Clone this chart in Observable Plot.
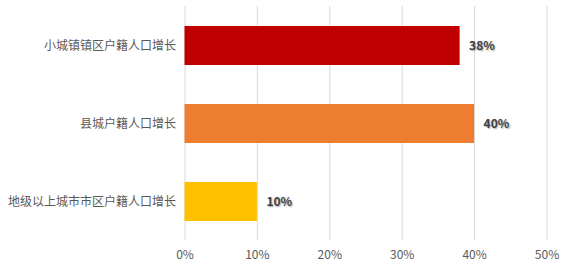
<!DOCTYPE html>
<html>
<head>
<meta charset="utf-8">
<script src="https://cdn.jsdelivr.net/npm/d3@7"></script>
<script src="https://cdn.jsdelivr.net/npm/@observablehq/plot@0.6"></script>
<style>
  html, body { margin: 0; padding: 0; background: #fff; }
  #chart svg { display: block; }
  #chart g.value-labels text { text-shadow: 1px 1.5px 1.5px rgba(0,0,0,0.35); }
</style>
</head>
<body>
<div id="chart"></div>
<script>
// Household-registration population growth by city tier
const categories = ["小城镇镇区户籍人口增长", "县城户籍人口增长", "地级以上城市市区户籍人口增长"];
const growth = [38, 40, 10];
const barColors = ["#C00000", "#ED7D31", "#FFC000"];
const xTicks = [0, 10, 20, 30, 40, 50];

const rows = categories.map((c, i) => ({category: c, value: growth[i], color: barColors[i]}));

const font = "'Noto Sans CJK SC', 'Noto Sans', sans-serif";

const chart = Plot.plot({
  width: 576,
  height: 279,
  marginLeft: 184.5,
  marginRight: 29.5,
  marginTop: 6,
  marginBottom: 39,
  style: {fontFamily: font, fontSize: "12px", color: "#595959", background: "#fff"},
  x: {domain: [0, 50], ticks: xTicks, tickFormat: d => d + "%", label: null, tickSize: 0, tickPadding: 10},
  y: {domain: categories, paddingInner: 0.5, paddingOuter: 0.25, label: null, tickSize: 0, tickPadding: 9},
  marks: [
    Plot.gridX(xTicks, {stroke: "#d9d9d9", strokeOpacity: 1, strokeWidth: 1}),
    Plot.barX(rows, {y: "category", x: "value", fill: "color"}),
    Plot.text(rows, {
      y: "category", x: "value", text: d => d.value + "%",
      textAnchor: "start", dx: 9, fill: "#404040", fontWeight: "bold", fontSize: 12,
      className: "value-labels"
    })
  ]
});

document.getElementById("chart").appendChild(chart);
</script>
</body>
</html>
